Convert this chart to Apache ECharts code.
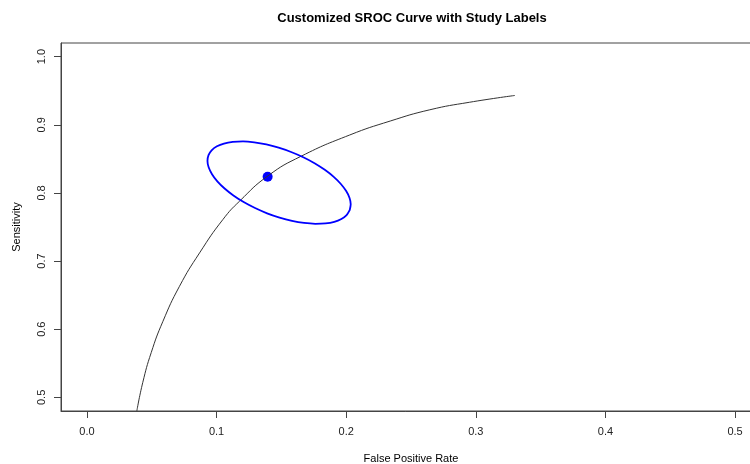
<!DOCTYPE html>
<html>
<head>
<meta charset="utf-8">
<script src="https://cdn.jsdelivr.net/npm/echarts@6/dist/echarts.min.js"></script>
<style>
  html, body { margin: 0; padding: 0; background: #fff; }
  #container { width: 750px; height: 464px; }
</style>
</head>
<body>
<div id="container"></div>
<script>
// SROC curve: [false positive rate, sensitivity]
var srocCurve = [
  [0.0385, 0.480], [0.0431, 0.522], [0.0496, 0.5657], [0.0585, 0.611],
  [0.0714, 0.663], [0.0869, 0.712], [0.1049, 0.761], [0.1178, 0.788],
  [0.1396, 0.825], [0.1654, 0.854], [0.2027, 0.885], [0.2340, 0.9055],
  [0.2645, 0.922], [0.2950, 0.933], [0.3301, 0.943]
];
// summary point
var summaryPoint = [[0.1394, 0.8238]];
// confidence region outline
var confRegion = [
  [0.2027, 0.7747], [0.2003, 0.7675], [0.1963, 0.7618], [0.1908, 0.7576],
  [0.1840, 0.7553], [0.1762, 0.7547], [0.1675, 0.7559], [0.1582, 0.7590],
  [0.1486, 0.7638], [0.1390, 0.7701], [0.1297, 0.7778], [0.1209, 0.7866],
  [0.1130, 0.7963], [0.1062, 0.8065], [0.1006, 0.8170], [0.0965, 0.8275],
  [0.0939, 0.8376], [0.0930, 0.8470], [0.0938, 0.8554], [0.0962, 0.8626],
  [0.1003, 0.8684], [0.1057, 0.8725], [0.1125, 0.8749], [0.1204, 0.8755],
  [0.1291, 0.8742], [0.1384, 0.8712], [0.1479, 0.8664], [0.1575, 0.8601],
  [0.1669, 0.8524], [0.1756, 0.8436], [0.1835, 0.8339], [0.1904, 0.8236],
  [0.1959, 0.8131], [0.2000, 0.8027], [0.2026, 0.7926], [0.2035, 0.7832],
  [0.2027, 0.7747]
];
var xTicks = [0, 0.1, 0.2, 0.3, 0.4, 0.5];
var yTicks = [0.5, 0.6, 0.7, 0.8, 0.9, 1.0];

var font = 'Liberation Sans, Arial, sans-serif';
var chart = echarts.init(document.getElementById('container'));
var option = {
  animation: false,
  backgroundColor: '#fff',
  title: {
    text: 'Customized SROC Curve with Study Labels',
    left: 407,
    top: 7,
    textAlign: 'center',
    textStyle: { fontFamily: font, fontSize: 13, fontWeight: 'bold', color: '#000' }
  },
  grid: {
    left: 61, top: 43, width: 700, height: 368,
    containLabel: false,
    outerBoundsMode: 'none',
    show: true, borderColor: '#444', borderWidth: 1
  },
  xAxis: {
    type: 'value',
    min: -0.02, max: 0.52,
    name: 'False Positive Rate',
    nameLocation: 'middle',
    nameGap: 42,
    nameTextStyle: { fontFamily: font, fontSize: 11, color: '#000' },
    splitLine: { show: false },
    axisLine: { show: true, onZero: false, lineStyle: { color: '#444', width: 1 } },
    axisTick: { show: true, length: 7, customValues: xTicks, lineStyle: { color: '#444' } },
    axisLabel: {
      customValues: xTicks, margin: 15,
      fontFamily: font, fontSize: 11, color: '#222',
      formatter: function (v) { return v.toFixed(1); }
    }
  },
  yAxis: {
    type: 'value',
    min: 0.48, max: 1.02,
    name: 'Sensitivity',
    nameLocation: 'middle',
    nameGap: 39,
    nameTextStyle: { fontFamily: font, fontSize: 11, color: '#000' },
    splitLine: { show: false },
    axisLine: { show: true, onZero: false, lineStyle: { color: '#444', width: 1 } },
    axisTick: { show: true, length: 7, customValues: yTicks, lineStyle: { color: '#444' } },
    axisLabel: {
      customValues: yTicks, margin: 14, rotate: 90,
      fontFamily: font, fontSize: 11, color: '#222',
      formatter: function (v) { return v.toFixed(1); }
    }
  },
  series: [
    {
      type: 'line',
      data: srocCurve,
      smooth: 0.5,
      showSymbol: false,
      lineStyle: { color: '#333', width: 1 }
    },
    {
      type: 'line',
      data: confRegion,
      smooth: 0.3,
      showSymbol: false,
      lineStyle: { color: '#0000ff', width: 1.8 }
    },
    {
      type: 'scatter',
      data: summaryPoint,
      symbolSize: 10,
      itemStyle: { color: '#0000ff', opacity: 1 }
    }
  ]
};
chart.setOption(option);
</script>
</body>
</html>
